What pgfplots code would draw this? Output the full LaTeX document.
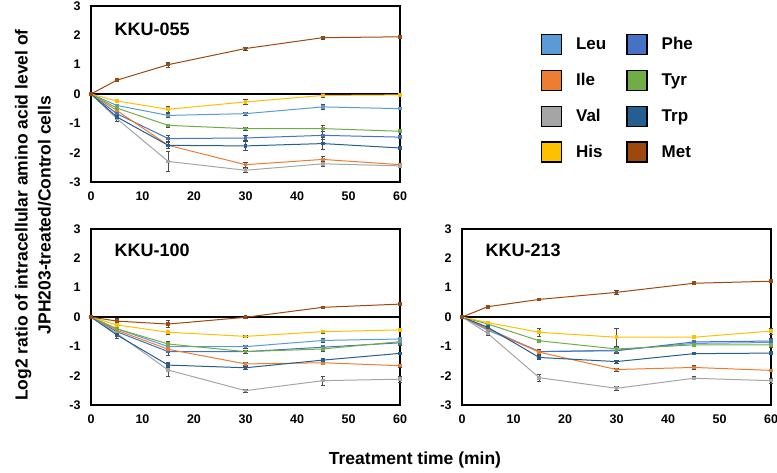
\documentclass[border=0pt]{standalone}
\usepackage{pgfplots}
\usepackage{pgfplotstable}
\pgfplotsset{compat=1.18}
\usepackage{fontspec}
\setmainfont{Liberation Sans}

\definecolor{cLeu}{HTML}{5B9BD5}
\definecolor{cIle}{HTML}{ED7D31}
\definecolor{cVal}{HTML}{A5A5A5}
\definecolor{cHis}{HTML}{FFC000}
\definecolor{cPhe}{HTML}{4472C4}
\definecolor{cTyr}{HTML}{70AD47}
\definecolor{cTrp}{HTML}{255E91}
\definecolor{cMet}{HTML}{9E480E}

% KKU-055
\pgfplotstableread{
t  Leu   eLeu Phe   ePhe Ile   eIle Tyr   eTyr Val   eVal Trp   eTrp His   eHis Met  eMet
0  0     0.03 0     0.03 0     0.03 0     0.03 0     0.03 0     0.03 0     0.03 0    0.03
5  -0.39 0.05 -0.67 0.08 -0.56 0.08 -0.48 0.05 -0.84 0.10 -0.78 0.10 -0.24 0.06 0.47 0.03
15 -0.73 0.08 -1.52 0.10 -1.75 0.05 -1.07 0.05 -2.30 0.35 -1.75 0.10 -0.52 0.10 1.00 0.08
30 -0.67 0.06 -1.50 0.08 -2.41 0.08 -1.18 0.06 -2.60 0.06 -1.77 0.15 -0.27 0.08 1.55 0.05
45 -0.44 0.08 -1.41 0.15 -2.23 0.10 -1.18 0.10 -2.38 0.10 -1.69 0.20 -0.05 0.08 1.92 0.06
60 -0.50 0.03 -1.47 0.05 -2.41 0.05 -1.27 0.05 -2.45 0.06 -1.84 0.05 -0.03 0.03 1.95 0.03
}\kkuA

% KKU-100
\pgfplotstableread{
t  Leu   eLeu Phe   ePhe Ile   eIle Tyr   eTyr Val   eVal Trp   eTrp His   eHis Met   eMet
0  0     0.03 0     0.03 0     0.03 0     0.03 0     0.03 0     0.03 0     0.03 0     0.03
5  -0.40 0.08 -0.50 0.08 -0.45 0.08 -0.40 0.08 -0.56 0.10 -0.61 0.12 -0.27 0.06 -0.14 0.10
15 -1.01 0.10 -1.18 0.12 -1.10 0.08 -0.92 0.10 -1.81 0.20 -1.64 0.08 -0.52 0.08 -0.24 0.12
30 -1.01 0.05 -1.18 0.05 -1.60 0.06 -1.18 0.05 -2.51 0.05 -1.73 0.06 -0.66 0.04 -0.01 0.04
45 -0.80 0.06 -1.03 0.08 -1.56 0.06 -1.09 0.08 -2.17 0.15 -1.47 0.06 -0.50 0.06 0.33  0.05
60 -0.75 0.05 -0.88 0.08 -1.66 0.06 -0.84 0.06 -2.12 0.10 -1.24 0.05 -0.44 0.06 0.44  0.05
}\kkuB

% KKU-213
\pgfplotstableread{
t  Leu   eLeu Phe   ePhe Ile   eIle Tyr   eTyr Val   eVal Trp   eTrp His   eHis Met  eMet
0  0     0.03 0     0.03 0     0.03 0     0.03 0     0.03 0     0.03 0     0.03 0    0.03
5  -0.45 0.06 -0.40 0.06 -0.40 0.06 -0.24 0.05 -0.56 0.08 -0.35 0.06 -0.19 0.05 0.35 0.03
15 -1.18 0.08 -1.18 0.08 -1.20 0.06 -0.81 0.06 -2.07 0.12 -1.38 0.08 -0.52 0.15 0.60 0.04
30 -1.13 0.10 -1.15 0.10 -1.79 0.05 -1.09 0.10 -2.43 0.06 -1.52 0.05 -0.69 0.32 0.84 0.06
45 -0.90 0.05 -0.85 0.05 -1.72 0.06 -0.95 0.05 -2.09 0.05 -1.25 0.04 -0.69 0.05 1.15 0.04
60 -0.87 0.15 -0.82 0.10 -1.82 0.04 -0.95 0.08 -2.17 0.08 -1.23 0.04 -0.48 0.10 1.22 0.03
}\kkuC

\newcommand{\aminoplots}[1]{%
  \addplot[amino, cLeu] table[x=t, y=Leu, y error=eLeu] {#1};
  \addplot[amino, cPhe] table[x=t, y=Phe, y error=ePhe] {#1};
  \addplot[amino, cIle] table[x=t, y=Ile, y error=eIle] {#1};
  \addplot[amino, cTyr] table[x=t, y=Tyr, y error=eTyr] {#1};
  \addplot[amino, cVal] table[x=t, y=Val, y error=eVal] {#1};
  \addplot[amino, cTrp] table[x=t, y=Trp, y error=eTrp] {#1};
  \addplot[amino, cHis] table[x=t, y=His, y error=eHis] {#1};
  \addplot[amino, cMet] table[x=t, y=Met, y error=eMet] {#1};
}

\pgfplotsset{
  amino/.style={line width=1pt, mark=square*, mark size=1.3pt,
    error bars/y dir=both, error bars/y explicit,
    error bars/error bar style={black!70, line width=0.7pt},
    error bars/error mark options={rotate=90, mark size=2.2pt, black!70, line width=0.7pt}},
  panel/.style={scale only axis, width=309pt, height=176pt,
    anchor=south west, clip=false,
    xmin=0, xmax=60, ymin=-3, ymax=3,
    xtick={0,10,...,60}, ytick={-3,...,3},
    major tick length=0pt,
    axis line style={line width=1.5pt},
    tick label style={font=\bfseries\fontsize{12.5}{14}\selectfont},
    /pgf/number format/assume math mode=true,
    xticklabel style={yshift=-6pt},
    yticklabel style={xshift=-7pt},
    extra y ticks={0}, extra y tick labels={},
    extra y tick style={grid=major, major grid style={black, line width=1.5pt}},
    legend image code/.code={\draw[#1, fill, draw=black, line width=1.4pt] (0pt,-10pt) rectangle (20pt,10pt);}},
}

\begin{document}
\begin{tikzpicture}
\path[use as bounding box] (0,0) rectangle (777pt,472pt);

\begin{axis}[panel, at={(91pt,290pt)},
  legend columns=2,
  legend entries={Leu,Phe,Ile,Tyr,Val,Trp,His,Met},
  legend cell align=left,
  legend style={at={(1.445,0.855)}, anchor=north west, draw=none, fill=none,
    font=\bfseries\fontsize{17}{20}\selectfont, row sep=14.5pt,
    nodes={inner sep=0pt},
    /tikz/every odd column/.style={column sep=14pt},
    /tikz/every even column/.style={column sep=20pt}}]
  \aminoplots{\kkuA}
  \node[anchor=west, font=\bfseries\fontsize{18}{20}\selectfont] at (rel axis cs:0.065,0.87) {KKU-055};
\end{axis}

\begin{axis}[panel, at={(91pt,67pt)}]
  \aminoplots{\kkuB}
  \node[anchor=west, font=\bfseries\fontsize{18}{20}\selectfont] at (rel axis cs:0.065,0.88) {KKU-100};
\end{axis}

\begin{axis}[panel, at={(462pt,67pt)}]
  \aminoplots{\kkuC}
  \node[anchor=west, font=\bfseries\fontsize{18}{20}\selectfont] at (rel axis cs:0.065,0.88) {KKU-213};
\end{axis}

\node[rotate=90, align=center, font=\bfseries\fontsize{17.5}{23}\selectfont] at (33pt,257pt)
  {Log2 ratio of intracellular amino acid level of\\JPH203-treated/Control cells};
\node[font=\bfseries\fontsize{17.5}{20}\selectfont] at (415pt,12pt) {Treatment time (min)};
\end{tikzpicture}
\end{document}
